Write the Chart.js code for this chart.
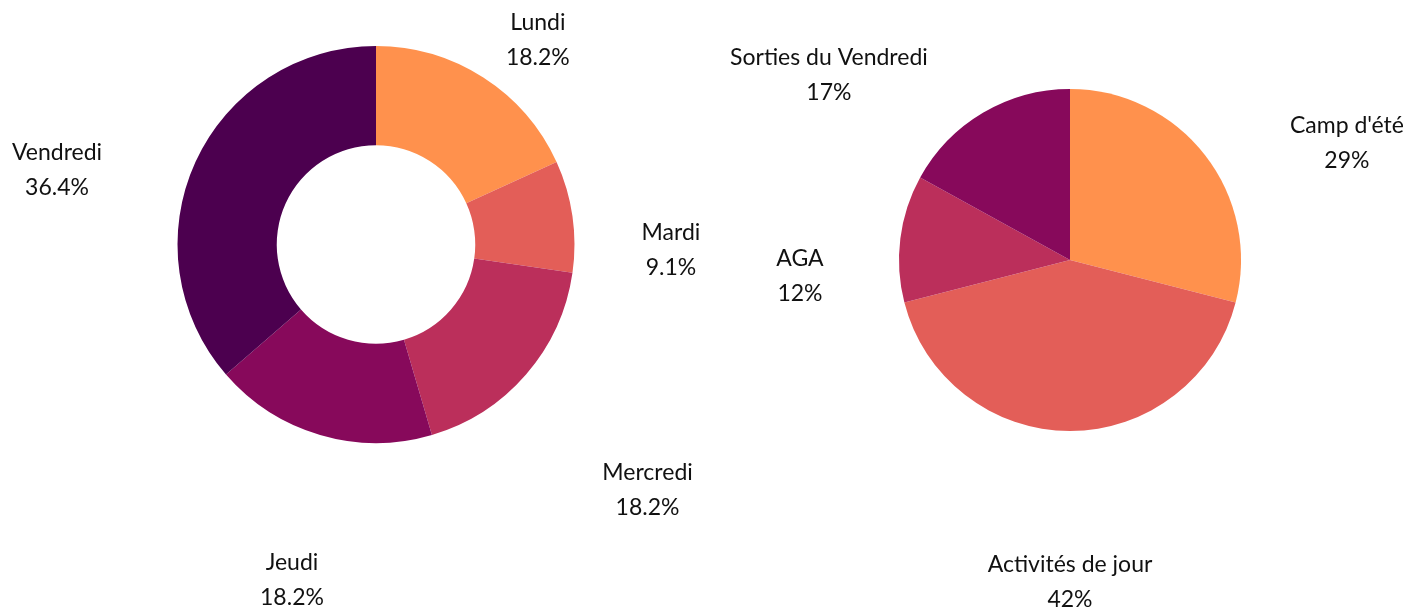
<!DOCTYPE html>
<html>

<head>
    <meta charset="utf-8">
    <title>Activites</title>
    <script src="https://cdn.jsdelivr.net/npm/chart.js@4/dist/chart.umd.min.js"></script>
    <style>
        html, body { margin: 0; padding: 0; background: #fff; }
        #wrap { position: relative; width: 1425px; height: 609px; }
        .box { position: absolute; top: 0; height: 609px; }
    </style>
</head>

<body>
    <div id="wrap">
        <div class="box" style="left: 0; width: 712px;"><canvas id="chart_jours"></canvas></div>
        <div class="box" style="left: 712px; width: 713px;"><canvas id="chart_activites"></canvas></div>
    </div>
</body>

<script>
    // Donut: jours
    var jours = ["Lundi", "Mardi", "Mercredi", "Jeudi", "Vendredi"];
    var joursPct = [18.2, 9.1, 18.2, 18.2, 36.4];
    var joursCouleurs = ["#FF914D", "#E35E58", "#BB2F5B", "#87095B", "#4C004F"];

    // Pie: activites
    var activites = ["Camp d'été", "Activités de jour", "AGA", "Sorties du Vendredi"];
    var activitesPct = [29, 42, 12, 17];
    var activitesCouleurs = ["#FF914D", "#E35E58", "#BB2F5B", "#87095B"];

    // label placement (distance as factor of radius, angle nudge in degrees)
    var joursLabelPos = [{ r: 1.312, da: 5.7 }, { r: 1.486, da: 9.25 }, { r: 1.844, da: 1.2 }, { r: 1.742, da: -2.3 }, { r: 1.650, da: -11.4 }];
    var activitesLabelPos = [{ r: 1.758, da: 14.9 }, { r: 1.883, da: 0 }, { r: 1.582, da: -10.6 }, { r: 1.777, da: -21.9 }];

    const labelPlugin = {
        id: 'outerLabels',
        afterDatasetsDraw(chart, args, opts) {
            const ctx = chart.ctx;
            const meta = chart.getDatasetMeta(0);
            ctx.save();
            ctx.font = '23px Lato';
            ctx.fillStyle = '#111';
            ctx.textAlign = 'center';
            ctx.textBaseline = 'middle';
            meta.data.forEach((arc, i) => {
                const p = arc.getProps(['x', 'y', 'startAngle', 'endAngle', 'outerRadius'], true);
                const pos = opts.pos[i];
                const a = (p.startAngle + p.endAngle) / 2 + pos.da * Math.PI / 180;
                const cx = p.x + Math.cos(a) * p.outerRadius * pos.r;
                const cy = p.y + Math.sin(a) * p.outerRadius * pos.r;
                ctx.fillText(chart.data.labels[i], cx, cy - 17.5);
                ctx.fillText(opts.fmt(chart.data.datasets[0].data[i]), cx, cy + 17.5);
            });
            ctx.restore();
        }
    };

    const baseOptions = (padding, pos, fmt) => ({
        responsive: true,
        maintainAspectRatio: false,
        animation: false,
        layout: { padding: padding },
        plugins: {
            legend: { display: false },
            tooltip: { enabled: false },
            outerLabels: { pos: pos, fmt: fmt }
        }
    });

    var donut = new Chart(document.getElementById('chart_jours'), {
        type: 'doughnut',
        data: {
            labels: jours,
            datasets: [{
                data: joursPct,
                backgroundColor: joursCouleurs,
                borderWidth: 0
            }]
        },
        options: Object.assign(baseOptions({ left: 177.5, right: 137.5, top: 46, bottom: 166 },
            joursLabelPos, v => v.toFixed(1) + '%'), { cutout: '50%' }),
        plugins: [labelPlugin]
    });

    var pie = new Chart(document.getElementById('chart_activites'), {
        type: 'pie',
        data: {
            labels: activites,
            datasets: [{
                data: activitesPct,
                backgroundColor: activitesCouleurs,
                borderWidth: 0
            }]
        },
        options: baseOptions({ left: 187, right: 184, top: 89, bottom: 178 },
            activitesLabelPos, v => v + '%'),
        plugins: [labelPlugin]
    });
</script>

</html>
